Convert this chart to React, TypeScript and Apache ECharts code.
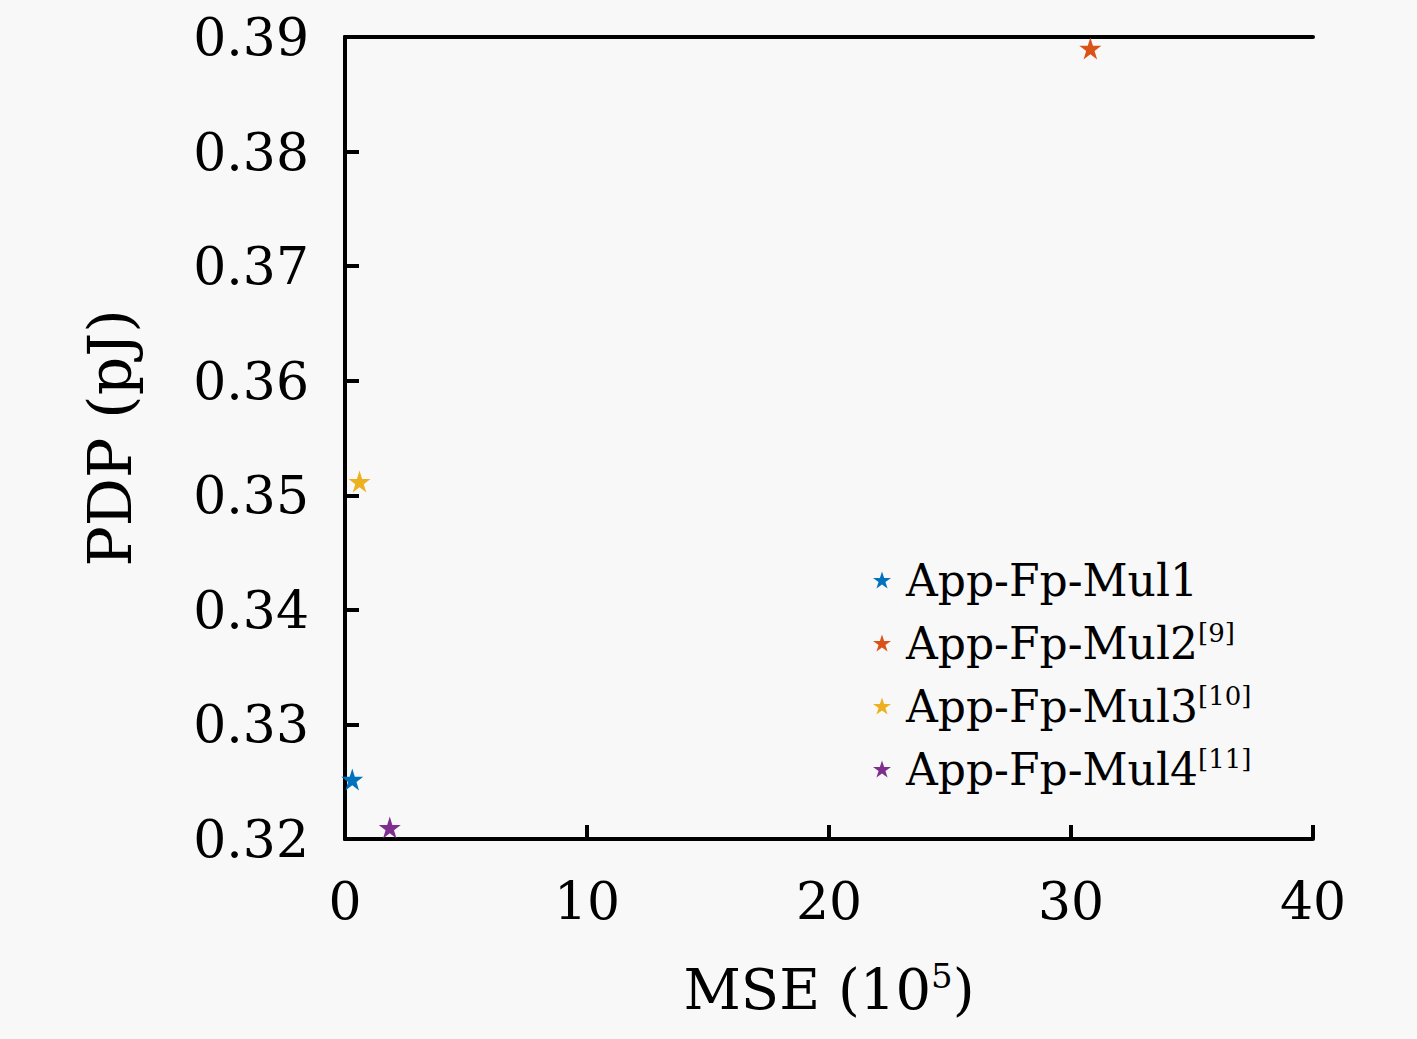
import React, { useEffect, useRef } from "react";
import * as echarts from "echarts";

const seriesNames = ["App-Fp-Mul1", "App-Fp-Mul2", "App-Fp-Mul3", "App-Fp-Mul4"];
const seriesRefs = ["", "[9]", "[10]", "[11]"];
const seriesColors = ["#0072BD", "#D95319", "#EDB120", "#7E2F8E"];
const mseValues = [0.3, 30.8, 0.6, 1.85];
const pdpValues = [0.3252, 0.389, 0.3512, 0.321];

const xTicks = [0, 10, 20, 30, 40];
const yTicks = [0.32, 0.33, 0.34, 0.35, 0.36, 0.37, 0.38, 0.39];

const STAR = "path://M50,0 L61.2,34.5 L97.6,34.5 L68.2,55.9 L79.4,90.5 L50,69.1 L20.6,90.5 L31.8,55.9 L2.4,34.5 L38.8,34.5 Z";
const FONT = "'DejaVu Serif', 'Liberation Serif', serif";

export default function App() {
  const ref = useRef<HTMLDivElement>(null);
  useEffect(() => {
    if (!ref.current) return;
    const chart = echarts.init(ref.current, undefined, { renderer: "svg" });
    const axisLine = { show: true, lineStyle: { color: "#000", width: 4 } };
    const legendMap: Record<string, string> = {};
    seriesNames.forEach((n, i) => (legendMap[n] = seriesRefs[i]));
    chart.setOption({
      animation: false,
      backgroundColor: "#f8f8f8",
      textStyle: { fontFamily: FONT },
      grid: { left: 345, top: 37, right: 104, bottom: 200, containLabel: false },
      xAxis: [
        {
          type: "value",
          min: xTicks[0],
          max: xTicks[xTicks.length - 1],
          interval: 10,
          position: "bottom",
          axisLine,
          axisTick: { show: true, inside: true, length: 14, lineStyle: { color: "#000", width: 4 } },
          splitLine: { show: false },
          axisLabel: { color: "#000", fontSize: 52, fontFamily: FONT, margin: 36 },
          name: "MSE (10{sup|5})",
          nameLocation: "middle",
          nameGap: 120,
          nameTextStyle: {
            color: "#000",
            fontSize: 56,
            fontFamily: FONT,
            rich: { sup: { fontSize: 34, verticalAlign: "top", padding: [0, 0, 26, 0], fontFamily: FONT, color: "#000" } },
          },
        },
        {
          type: "value",
          min: xTicks[0],
          max: xTicks[xTicks.length - 1],
          interval: 10,
          position: "top",
          axisLine,
          axisTick: { show: false },
          axisLabel: { show: false },
          splitLine: { show: false },
        },
      ],
      yAxis: [
        {
          type: "value",
          min: yTicks[0],
          max: yTicks[yTicks.length - 1],
          interval: 0.01,
          position: "left",
          axisLine,
          axisTick: { show: true, inside: true, length: 14, lineStyle: { color: "#000", width: 4 } },
          splitLine: { show: false },
          axisLabel: { color: "#000", fontSize: 52, fontFamily: FONT, margin: 36, formatter: (v: number) => v.toFixed(2) },
          name: "PDP (pJ)",
          nameLocation: "middle",
          nameGap: 205,
          nameTextStyle: { color: "#000", fontSize: 60, fontFamily: FONT },
        },
        {
          type: "value",
          min: yTicks[0],
          max: yTicks[yTicks.length - 1],
          interval: 0.01,
          position: "right",
          axisLine,
          axisTick: { show: false },
          axisLabel: { show: false },
          splitLine: { show: false },
        },
      ],
      legend: {
        orient: "vertical",
        left: 868,
        top: 553,
        itemWidth: 18,
        itemHeight: 18,
        itemGap: 18,
        icon: STAR,
        data: seriesNames,
        formatter: (name: string) => (legendMap[name] ? `${name}{sup|${legendMap[name]}}` : name),
        textStyle: {
          color: "#000",
          fontSize: 44,
          fontFamily: FONT,
          padding: [0, 0, 0, 10],
          rich: { sup: { fontSize: 26, verticalAlign: "top", padding: [0, 0, 20, 0], fontFamily: FONT, color: "#000" } },
        },
      },
      series: seriesNames.map((name, i) => ({
        type: "scatter",
        name,
        symbol: STAR,
        symbolSize: 22,
        itemStyle: { color: seriesColors[i], opacity: 1 },
        data: [[mseValues[i], pdpValues[i]]],
      })),
    });
    return () => chart.dispose();
  }, []);
  return <div ref={ref} style={{ position: "fixed", left: 0, top: 0, width: 1417, height: 1039 }} />;
}
